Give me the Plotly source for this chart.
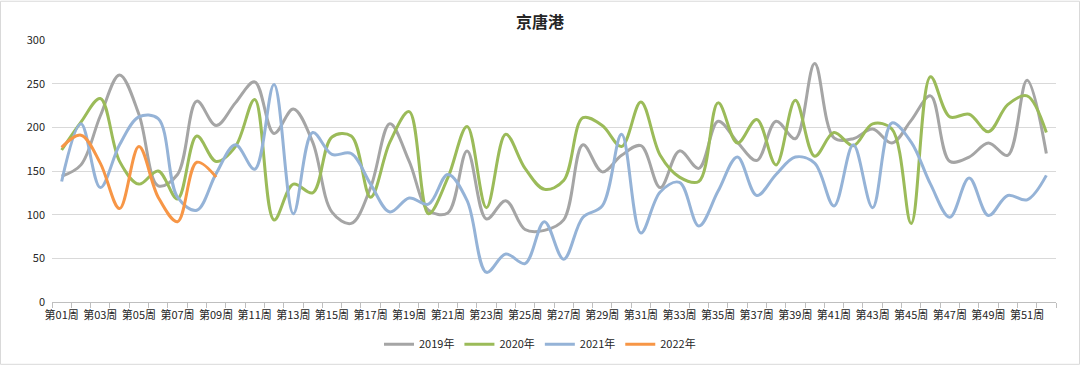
import plotly.graph_objects as go

weeks = [f"第{i:02d}周" for i in range(1, 53)]

y2019 = [144, 157, 213, 260, 215, 133, 146, 230, 202, 228, 252, 193, 221, 183, 103, 90,
         131, 204, 161, 105, 102, 173, 95, 116, 83, 82, 94, 180, 149, 168, 179, 131, 173, 153,
         207, 183, 162, 207, 187, 273, 188, 187, 198, 182, 208, 236, 161, 166, 182, 168, 254, 170]
y2020 = [174, 206, 233, 161, 135, 150, 118, 190, 161, 178, 232, 94, 135, 125, 189, 190,
         120, 183, 218, 101, 142, 201, 108, 192, 153, 129, 139, 211, 202, 178, 229, 168, 143, 138,
         228, 182, 209, 157, 231, 167, 194, 179, 204, 198, 90, 258, 212, 215, 195, 226, 236, 194]
y2021 = [138, 204, 131, 180, 212, 210, 120, 105, 147, 180, 152, 249, 101, 194, 169, 170,
         135, 103, 119, 112, 146, 116, 34, 55, 44, 92, 49, 97, 110, 192, 79, 126, 137, 87,
         127, 166, 122, 146, 166, 159, 110, 180, 108, 205, 183, 135, 97, 142, 99, 122, 117, 145]
y2022 = [177, 191, 159, 107, 178, 120, 92, 160, 143]

series = [("2019年", y2019, "#A5A5A5"), ("2020年", y2020, "#9BBB59"),
          ("2021年", y2021, "#95B3D7"), ("2022年", y2022, "#F79646")]

FONT = "Noto Sans CJK SC"
W, H = 1080, 371
L, R, T, B = 52, 24, 40, 64

fig = go.Figure()
for name, vals, color in series:
    fig.add_trace(go.Scatter(
        x=weeks[:len(vals)], y=vals, name=name, mode="lines",
        line=dict(color=color, width=3, shape="spline", smoothing=1.0),
    ))

pw = W - L - R
ph = H - T - B
fig.update_layout(
    width=W, height=H,
    margin=dict(l=L, r=R, t=T, b=B),
    paper_bgcolor="white", plot_bgcolor="white",
    font=dict(family=FONT, size=11, color="#262626"),
    title=dict(text="<b>京唐港</b>", x=0.5, xanchor="center",
               y=1 - 22 / H, yanchor="middle", yref="container",
               font=dict(size=16, color="#262626", family=FONT)),
    legend=dict(orientation="h", x=(540 - L) / pw, xanchor="center",
                y=(T + ph - 350) / ph, yanchor="middle",
                font=dict(size=11, family=FONT), itemwidth=30,
                bgcolor="rgba(0,0,0,0)"),
    xaxis=dict(type="category", categoryorder="array", categoryarray=weeks,
               tickvals=weeks, ticktext=[w if i % 2 == 0 else "" for i, w in enumerate(weeks)],
               tickangle=0, tickson="boundaries", ticks="outside", ticklen=5,
               ticklabelstandoff=3,
               tickcolor="#BFBFBF", showline=True, linecolor="#BFBFBF", linewidth=1,
               showgrid=False, range=[-0.5, 51.5], tickfont=dict(size=11)),
    yaxis=dict(range=[0, 300], dtick=50, showgrid=True, gridcolor="#D9D9D9",
               gridwidth=1, zeroline=False, showline=False, ticks="",
               ticklabelstandoff=6, tickfont=dict(size=11)),
    shapes=[dict(type="rect", xref="paper", yref="paper",
                 x0=-(L - 0.5) / pw, x1=1 + (R - 0.5) / pw,
                 y0=-(B - 0.5) / ph, y1=1 + (T - 0.5) / ph,
                 line=dict(color="#D9D9D9", width=1), layer="below")],
)

fig.write_html("out.html", config={"displayModeBar": False},
               post_script="document.body.style.margin='0';document.body.style.overflow='hidden';")
